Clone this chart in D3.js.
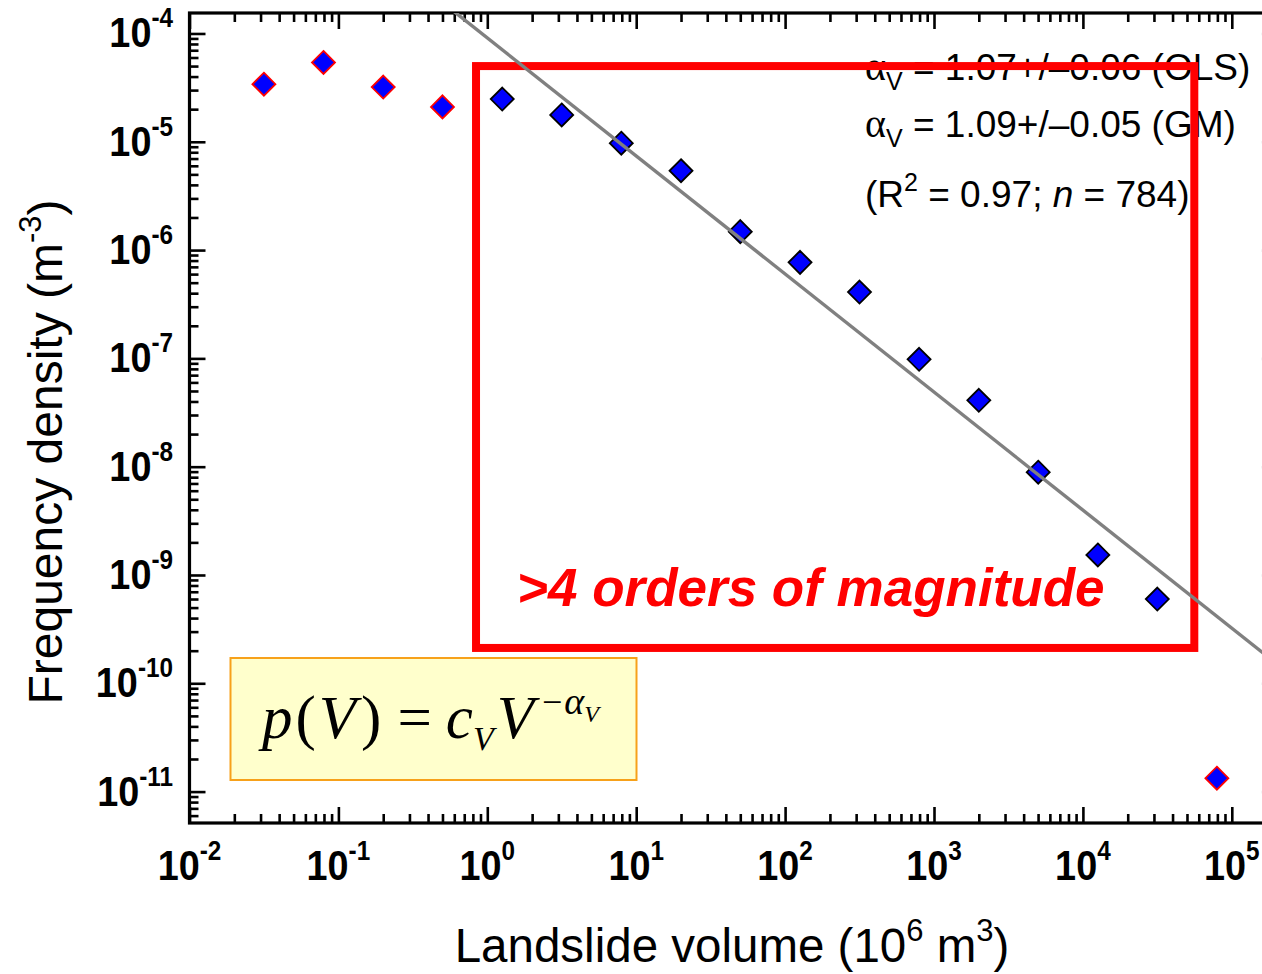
<!DOCTYPE html>
<html>
<head>
<meta charset="utf-8">
<script src="https://cdn.jsdelivr.net/npm/d3@7"></script>
<style>
  body { margin: 0; background: #fff; }
  svg { display: block; }
</style>
</head>
<body>
<svg id="chart" width="1262" height="974"></svg>
<script>
// Binned landslide volumes (10^6 m^3) and their frequency densities (m^-3)
const volumes   = [0.0316, 0.0794, 0.2, 0.5, 1.26, 3.16, 7.94, 20, 50, 126, 316, 794, 2000, 5010, 12600, 31600, 79400];
const densities = [3.4e-5, 5.4e-5, 3.2e-5, 2.1e-5, 2.48e-5, 1.77e-5, 9.7e-6, 5.4e-6, 1.48e-6, 7.7e-7, 4.1e-7, 9.8e-8, 4.1e-8, 8.9e-9, 1.53e-9, 6.0e-10, 1.33e-11];
// bins used in the power-law fit (others are drawn with a red outline)
const inFitRange = [false, false, false, false, true, true, true, true, true, true, true, true, true, true, true, true, false];

// axis decades
const xDecades = [-2, -1, 0, 1, 2, 3, 4, 5];
const yDecades = [-4, -5, -6, -7, -8, -9, -10, -11];

// power-law fit p(V) = c_V * V^(-alpha_V)
const fitAlpha = 1.09;
const fitC = 9.1e-5;

// extent of the fitted range (the ">4 orders of magnitude" box)
const fitBoxVolume  = [0.84, 56000];
const fitBoxDensity = [2.12e-10, 5.0e-5];

const W = 1262, H = 974;
const plot = { left: 189.5, top: 13, bottom: 823 };

const svg = d3.select('#chart');

const x = d3.scaleLog()
  .domain([1e-2, Math.pow(10, 5.31)])
  .range([plot.left, plot.left + 7.31 * 148.9]);
const y = d3.scaleLog()
  .domain([Math.pow(10, -11.29), Math.pow(10, -3.811)])
  .range([plot.bottom, plot.top]);
const plotRight = x.range()[1];

function logTicks(lo, hi) {
  const major = [], minor = [];
  for (let d = Math.floor(Math.log10(lo)); d <= Math.ceil(Math.log10(hi)); d++) {
    for (let k = 1; k < 10; k++) {
      const v = k * Math.pow(10, d);
      if (v < lo * 0.9999 || v > hi * 1.0001) continue;
      (k === 1 ? major : minor).push(v);
    }
  }
  return { major, minor };
}

const xt = logTicks(...x.domain());
const yt = logTicks(...y.domain());

const SANS = "'Liberation Sans', Arial, Helvetica, sans-serif";
const SERIF = "'Liberation Serif', 'Times New Roman', serif";

// tick marks, all pointing into the plot area
function tickGroup(axisFn, scale, vals, size, transform) {
  svg.append('g')
    .attr('transform', transform)
    .call(axisFn(scale).tickValues(vals).tickSize(size).tickSizeOuter(0).tickFormat(''))
    .call(g => g.select('.domain').remove())
    .call(g => g.selectAll('line').attr('stroke', '#000').attr('stroke-width', 2.6));
}
[[xt.minor, -9], [xt.major, -16]].forEach(([v, s]) => {
  tickGroup(d3.axisBottom, x, v, s, `translate(0,${plot.bottom})`);
  tickGroup(d3.axisTop, x, v, s, `translate(0,${plot.top})`);
});
[[yt.minor, -9], [yt.major, -16]].forEach(([v, s]) => {
  tickGroup(d3.axisLeft, y, v, s, `translate(${plot.left},0)`);
  tickGroup(d3.axisRight, y, v, s, `translate(${plotRight},0)`);
});

// plot frame
svg.append('rect')
  .attr('x', plot.left).attr('y', plot.top)
  .attr('width', plotRight - plot.left).attr('height', plot.bottom - plot.top)
  .attr('fill', 'none').attr('stroke', '#000').attr('stroke-width', 3.2);

// power-of-ten tick labels
function powerLabel(px, py, exp, anchor) {
  const t = svg.append('text')
    .attr('transform', `translate(${px},${py}) scale(0.9,1)`)
    .attr('text-anchor', anchor)
    .attr('font-family', SANS).attr('font-weight', 'bold').attr('font-size', 42)
    .attr('fill', '#000');
  t.append('tspan').text('10');
  t.append('tspan').attr('font-size', 27).attr('dy', -20).text(exp);
}
xDecades.forEach(d => powerLabel(x(Math.pow(10, d)), 880, d, 'middle'));
yDecades.forEach(d => powerLabel(173, y(Math.pow(10, d)) + 14, d, 'end'));

// axis titles
const xTitle = svg.append('text')
  .attr('x', 732).attr('y', 962).attr('text-anchor', 'middle')
  .attr('font-family', SANS).attr('font-size', 47.5).attr('fill', '#000');
xTitle.append('tspan').text('Landslide volume (10');
xTitle.append('tspan').attr('font-size', 31).attr('dy', -21).text('6');
xTitle.append('tspan').attr('dy', 21).text(' m');
xTitle.append('tspan').attr('font-size', 31).attr('dy', -21).text('3');
xTitle.append('tspan').attr('dy', 21).text(')');

const yTitle = svg.append('text')
  .attr('transform', 'translate(62,452) rotate(-90)').attr('text-anchor', 'middle')
  .attr('font-family', SANS).attr('font-size', 48).attr('fill', '#000');
yTitle.append('tspan').text('Frequency density (m');
yTitle.append('tspan').attr('font-size', 31).attr('dy', -21).text('-3');
yTitle.append('tspan').attr('dy', 21).text(')');

// fit statistics
const stats = svg.append('g')
  .attr('font-family', SANS).attr('font-size', 37).attr('fill', '#000');
function alphaLine(py, rest) {
  const t = stats.append('text').attr('x', 865).attr('y', py);
  t.append('tspan').attr('font-family', SERIF).attr('font-size', 40).text('α');
  t.append('tspan').attr('font-size', 25).attr('dy', 10).text('V');
  t.append('tspan').attr('dy', -10).text(rest);
}
alphaLine(80, ' = 1.07+/\u20130.06 (OLS)');
alphaLine(137, ' = 1.09+/\u20130.05 (GM)');
const r2 = stats.append('text').attr('x', 865).attr('y', 207);
r2.append('tspan').text('(R');
r2.append('tspan').attr('font-size', 25).attr('dy', -16).text('2');
r2.append('tspan').attr('dy', 16).text(' = 0.97; ');
r2.append('tspan').attr('font-style', 'italic').text('n');
r2.append('tspan').text(' = 784)');

// formula box
svg.append('rect')
  .attr('x', 230.5).attr('y', 658).attr('width', 406).attr('height', 122)
  .attr('fill', '#FFFFCC').attr('stroke', '#F7A11A').attr('stroke-width', 2);
const f = svg.append('text')
  .attr('x', 262).attr('y', 738)
  .attr('font-family', SERIF).attr('font-size', 61).attr('fill', '#000');
f.append('tspan').attr('font-style', 'italic').text('p');
f.append('tspan').attr('dx', 3).text('(');
f.append('tspan').attr('font-style', 'italic').attr('dx', 3).text('V');
f.append('tspan').attr('dx', 5).text(')');
f.append('tspan').attr('dx', 16).text('=');
f.append('tspan').attr('font-style', 'italic').attr('dx', 14).text('c');
f.append('tspan').attr('font-style', 'italic').attr('font-size', 34).attr('dy', 12).text('V');
f.append('tspan').attr('font-style', 'italic').attr('dy', -12).attr('dx', 3).text('V');
f.append('tspan').attr('font-size', 36).attr('dy', -24).attr('dx', 8).text('\u2212');
f.append('tspan').attr('font-style', 'italic').attr('font-size', 38).attr('dx', 2).text('α');
f.append('tspan').attr('font-style', 'italic').attr('font-size', 24).attr('dy', 8).text('V');

// fitted-range box and its label
svg.append('rect')
  .attr('x', x(fitBoxVolume[0])).attr('y', y(fitBoxDensity[1]))
  .attr('width', x(fitBoxVolume[1]) - x(fitBoxVolume[0]))
  .attr('height', y(fitBoxDensity[0]) - y(fitBoxDensity[1]))
  .attr('fill', 'none').attr('stroke', '#FF0000').attr('stroke-width', 8);
svg.append('text')
  .attr('x', 517).attr('y', 606)
  .attr('font-family', SANS).attr('font-weight', 'bold').attr('font-style', 'italic')
  .attr('font-size', 53).attr('fill', '#FF0000')
  .text('>4 orders of magnitude');

// data points
const diamond = 'M0,-11.5L11.5,0L0,11.5L-11.5,0Z';
svg.append('g').selectAll('path')
  .data(volumes.map((v, i) => ({ v, p: densities[i], fit: inFitRange[i] })))
  .join('path')
  .attr('d', diamond)
  .attr('transform', d => `translate(${x(d.v)},${y(d.p)})`)
  .attr('fill', '#0000FF')
  .attr('stroke', d => d.fit ? '#000' : '#FF0000')
  .attr('stroke-width', 1.8);

// fitted power law, clipped to the plot area
svg.append('clipPath').attr('id', 'plot-clip')
  .append('rect')
  .attr('x', plot.left).attr('y', plot.top)
  .attr('width', plotRight - plot.left).attr('height', plot.bottom - plot.top);
svg.append('path')
  .datum(x.domain().map(v => [v, fitC * Math.pow(v, -fitAlpha)]))
  .attr('clip-path', 'url(#plot-clip)')
  .attr('d', d3.line().x(d => x(d[0])).y(d => y(d[1])))
  .attr('fill', 'none').attr('stroke', '#808080').attr('stroke-width', 3.4);
</script>
</body>
</html>
